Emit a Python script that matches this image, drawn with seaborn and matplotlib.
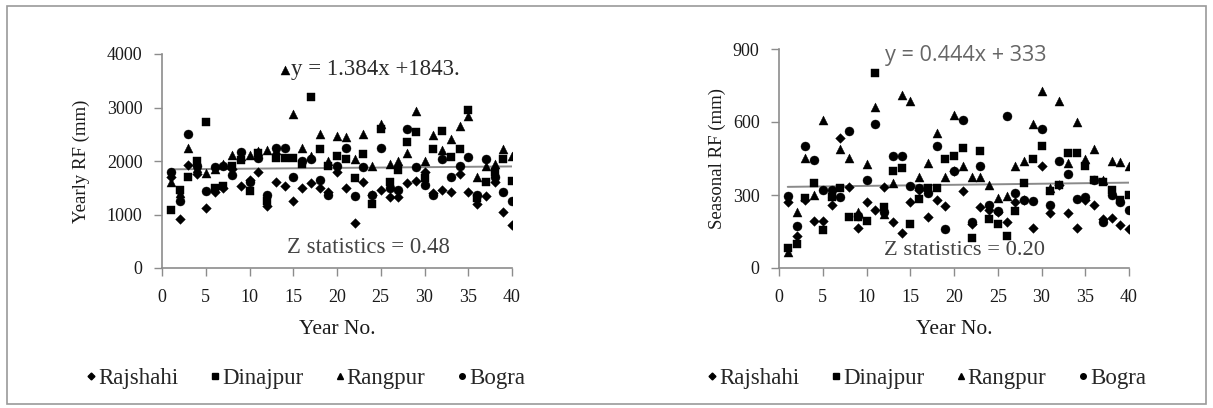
import numpy as np
import pandas as pd
import seaborn as sns
import matplotlib
matplotlib.use("Agg")
import matplotlib.pyplot as plt
from matplotlib.lines import Line2D
from matplotlib.patches import Rectangle

years = list(range(1, 41))
stations = ["Rajshahi", "Dinajpur", "Rangpur", "Bogra"]

# Yearly rainfall (mm)
yearly_rajshahi = [1700, 920, 1930, 1760, 1130, 1420, 1490, 1850, 1540, 1650,
                   1790, 1150, 1600, 1540, 1260, 1500, 1580, 1490, 1420, 1790,
                   1500, 850, 1600, 1360, 1450, 1320, 1320, 1590, 1620, 1800,
                   1400, 1460, 1420, 1760, 1420, 1200, 1340, 1600, 1050, 800]
yearly_dinajpur = [1080, 1450, 1700, 2000, 2720, 1500, 1540, 1900, 2020, 1440,
                   2150, 1250, 2060, 2060, 2060, 1940, 3200, 2230, 1910, 2100,
                   2040, 1690, 2140, 1200, 2600, 1600, 1840, 2350, 2540, 1680,
                   2230, 2560, 2070, 2230, 2960, 1300, 1600, 1800, 2040, 1620]
yearly_rangpur = [1610, 1400, 2250, 1870, 1780, 1850, 1940, 2120, 2100, 2120,
                  2180, 2200, 2210, 3700, 2880, 2240, 2100, 2500, 2000, 2470,
                  2440, 2040, 2510, 1900, 2700, 1940, 2000, 2150, 2940, 2000,
                  2490, 2200, 2410, 2660, 2840, 1700, 1900, 1950, 2230, 2100]
yearly_bogra = [1790, 1260, 2500, 1900, 1440, 1880, 1900, 1740, 2170, 1600,
                2060, 1360, 2250, 2240, 1700, 2000, 2040, 1650, 1360, 1900,
                2250, 1340, 1880, 1360, 2250, 1500, 1450, 2600, 1880, 1560,
                1360, 2040, 1700, 1900, 2080, 1360, 2040, 1700, 1420, 1250]

# Seasonal rainfall (mm)
seasonal_rajshahi = [270, 130, 280, 193, 193, 260, 536, 333, 165, 270,
                     240, 333, 190, 145, 270, 320, 210, 280, 255, 400,
                     315, 180, 250, 240, 230, 190, 270, 280, 165, 418,
                     225, 340, 225, 165, 280, 260, 200, 205, 175, 160]
seasonal_dinajpur = [82, 100, 288, 350, 157, 290, 330, 210, 210, 192,
                     800, 250, 400, 410, 180, 285, 330, 330, 450, 459,
                     493, 125, 480, 200, 180, 130, 233, 350, 450, 500,
                     315, 340, 472, 472, 418, 360, 355, 320, 280, 301]
seasonal_rangpur = [65, 232, 452, 300, 608, 310, 490, 454, 230, 427,
                    660, 220, 350, 710, 685, 375, 430, 555, 376, 630,
                    420, 375, 375, 340, 287, 294, 418, 440, 590, 727,
                    330, 686, 430, 600, 450, 488, 360, 440, 434, 418]
seasonal_bogra = [294, 172, 500, 443, 320, 320, 290, 563, 215, 360,
                  590, 230, 460, 460, 338, 330, 310, 500, 159, 397,
                  608, 190, 420, 260, 233, 626, 308, 280, 275, 570,
                  260, 438, 385, 282, 290, 360, 188, 300, 270, 240]

trend_yearly = (1.384, 1843)
trend_seasonal = (0.444, 333)

def long_df(series):
    rows = []
    for name, vals in zip(stations, series):
        for yr, v in zip(years, vals):
            rows.append((yr, v, name))
    return pd.DataFrame(rows, columns=["year", "rf", "station"])

df_y = long_df([yearly_rajshahi, yearly_dinajpur, yearly_rangpur, yearly_bogra])
df_s = long_df([seasonal_rajshahi, seasonal_dinajpur, seasonal_rangpur, seasonal_bogra])

sns.set_theme(style="white")
plt.rcParams["font.family"] = ["Liberation Serif", "DejaVu Serif"]

W, H = 1213, 408
fig = plt.figure(figsize=(W / 100, H / 100), dpi=100)

def ax_rect(l, t, r, b):
    return [l / W, 1 - b / H, (r - l) / W, (b - t) / H]

ax1 = fig.add_axes(ax_rect(162, 54, 512, 268))
ax2 = fig.add_axes(ax_rect(779, 49, 1129, 268))

markers = {"Rajshahi": "D", "Dinajpur": "s", "Rangpur": "^", "Bogra": "o"}
sizes = {"Rajshahi": 24, "Dinajpur": 38, "Rangpur": 42, "Bogra": 42}

def draw(ax, df, trend, ylim, yticks, ylabel, ylabelpad, legend_x):
    for st in stations:
        sub = df[df.station == st]
        sns.scatterplot(data=sub, x="year", y="rf", marker=markers[st], s=sizes[st],
                        color="black", edgecolor="black", linewidth=0.3, ax=ax,
                        legend=False, zorder=3)
    xs = np.array([1, 40])
    ax.plot(xs, trend[0] * xs + trend[1], color="#8a8a8a", lw=1.4, zorder=2)
    ax.set_xlim(0, 40)
    ax.set_ylim(*ylim)
    ax.set_xticks(range(0, 41, 5))
    ax.set_yticks(yticks)
    for s in ["top", "right"]:
        ax.spines[s].set_visible(False)
    for s in ["left", "bottom"]:
        ax.spines[s].set_color("#8c8c8c")
        ax.spines[s].set_linewidth(1.2)
    ax.tick_params(axis="both", direction="out", length=6, width=1, color="#8c8c8c",
                   labelsize=13, labelcolor="#1a1a1a", bottom=True, left=True)
    ax.tick_params(axis="x", pad=9)
    ax.tick_params(axis="y", pad=8)
    ax.set_xlabel("Year No.", fontsize=15.5, color="#1a1a1a", labelpad=10)
    ax.set_ylabel(ylabel, fontsize=13.5, color="#1a1a1a", labelpad=ylabelpad)
    handles = [Line2D([], [], marker=markers[st], color="black", ls="none",
                      markersize=4 if st != "Rajshahi" else 3.5) for st in stations]
    fig.legend(handles, stations, loc="center left",
               bbox_to_anchor=(legend_x / W, 1 - 378 / H),
               ncol=4, frameon=False, fontsize=16.5, handletextpad=0.15,
               columnspacing=1.45, handlelength=0.3, borderpad=0, borderaxespad=0)

draw(ax1, df_y, trend_yearly, (0, 4000), [0, 1000, 2000, 3000, 4000],
     "Yearly RF (mm)", 12, 88)
draw(ax2, df_s, trend_seasonal, (0, 900), [0, 300, 600, 900],
     "Seasonal RF (mm)", 5, 709)

fig.text(291 / W, 1 - 69 / H, "y = 1.384x +1843.", fontsize=16.5,
         color="#2a2a2a", va="center", ha="left")
fig.text(287 / W, 1 - 248 / H, "Z statistics = 0.48", fontsize=16.4,
         color="#444444", va="center", ha="left")
fig.text(885 / W, 1 - 55 / H, "y = 0.444x + 333", fontsize=15.6,
         color="#666666", va="center", ha="left",
         family=["Open Sans", "DejaVu Sans"])
fig.text(884 / W, 1 - 250 / H, "Z statistics = 0.20", fontsize=16.2,
         color="#444444", va="center", ha="left")

fig.patches.append(Rectangle((7 / W, 4 / H), (1206 - 7) / W, (403 - 5) / H,
                             transform=fig.transFigure, fill=False,
                             edgecolor="#9a9a9a", lw=1.2))

fig.savefig("out.png", dpi=100, facecolor="white")
